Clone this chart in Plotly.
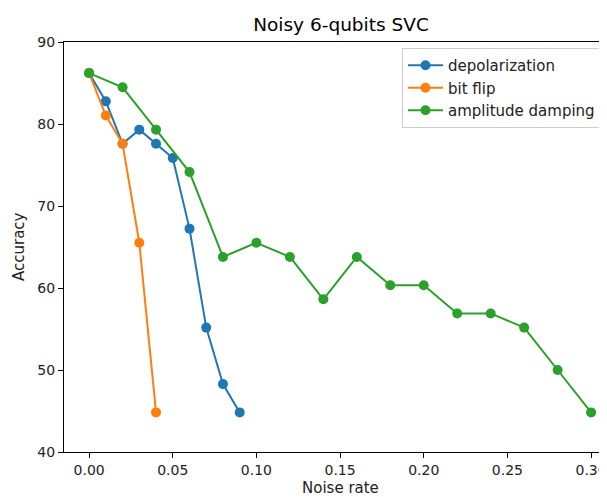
import plotly.graph_objects as go

depol_x = [0.0, 0.01, 0.02, 0.03, 0.04, 0.05, 0.06, 0.07, 0.08, 0.09]
depol_y = [86.21, 82.76, 77.59, 79.31, 77.59, 75.86, 67.24, 55.17, 48.28, 44.83]

bitflip_x = [0.0, 0.01, 0.02, 0.03, 0.04]
bitflip_y = [86.21, 81.03, 77.59, 65.52, 44.83]

amp_x = [0.0, 0.02, 0.04, 0.06, 0.08, 0.10, 0.12, 0.14, 0.16, 0.18, 0.20, 0.22, 0.24, 0.26, 0.28, 0.30]
amp_y = [86.21, 84.48, 79.31, 74.14, 63.79, 65.52, 63.79, 58.62, 63.79, 60.34, 60.34, 56.90, 56.90, 55.17, 50.00, 44.83]

x_ticks = [0.0, 0.05, 0.10, 0.15, 0.20, 0.25, 0.30]
x_tick_labels = ["0.00", "0.05", "0.10", "0.15", "0.20", "0.25", "0.30"]
y_ticks = [40, 50, 60, 70, 80, 90]

series = [
    ("depolarization", depol_x, depol_y, "#1f77b4"),
    ("bit flip", bitflip_x, bitflip_y, "#ff7f0e"),
    ("amplitude damping", amp_x, amp_y, "#2ca02c"),
]

# page body has an 8px margin, so figure coords = reference coords - 8
W, H = 599, 489
L, T, B = 56, 34, 45
PW, PH = W - L, H - T - B  # 543 x 410

fig = go.Figure()
for name, xs, ys, col in series:
    fig.add_trace(go.Scatter(
        x=xs, y=ys, name=name, mode="lines+markers",
        line=dict(color=col, width=2),
        marker=dict(color=col, size=10),
    ))

font = "DejaVu Sans, sans-serif"
fig.update_layout(
    width=W, height=H,
    margin=dict(l=L, r=0, t=T, b=B, pad=0, autoexpand=False),
    plot_bgcolor="white", paper_bgcolor="white",
    font=dict(family=font, size=14, color="#000"),
    title=dict(text="Noisy 6-qubits SVC", x=333 / W, xanchor="center",
               y=1 - 17 / H, yanchor="middle", font=dict(size=18.5, color="#000"),
               automargin=False),
    showlegend=True,
    legend=dict(
        x=(394 - L) / PW, xanchor="left", y=1 - 6 / PH, yanchor="top",
        bordercolor="#cccccc", borderwidth=1, bgcolor="rgba(255,255,255,0.8)",
        font=dict(size=15, color="#222"), tracegroupgap=0, itemwidth=35,
    ),
    xaxis=dict(
        range=[-0.015, -0.015 + PW / 1673.3],
        tickvals=x_ticks, ticktext=x_tick_labels,
        showgrid=False, zeroline=False, automargin=False,
        showline=True, linecolor="#000", linewidth=1, mirror=True,
        ticks="outside", ticklen=5, tickcolor="#000",
        tickfont=dict(size=14, color="#222"),
    ),
    yaxis=dict(
        range=[40, 90], tickvals=y_ticks,
        showgrid=False, zeroline=False, automargin=False,
        showline=True, linecolor="#000", linewidth=1, mirror=False,
        ticks="outside", ticklen=5, tickcolor="#000",
        tickfont=dict(size=14, color="#222"),
    ),
    annotations=[
        dict(text="Noise rate", xref="paper", yref="paper",
             x=(332 - L) / PW, y=(444 - 480) / PH, xanchor="center", yanchor="middle",
             showarrow=False, font=dict(size=15, color="#222")),
        dict(text="Accuracy", xref="paper", yref="paper", textangle=-90,
             x=(11 - L) / PW, y=0.5, xanchor="center", yanchor="middle",
             showarrow=False, font=dict(size=15, color="#222")),
    ],
)

fig.write_html("out.html")
